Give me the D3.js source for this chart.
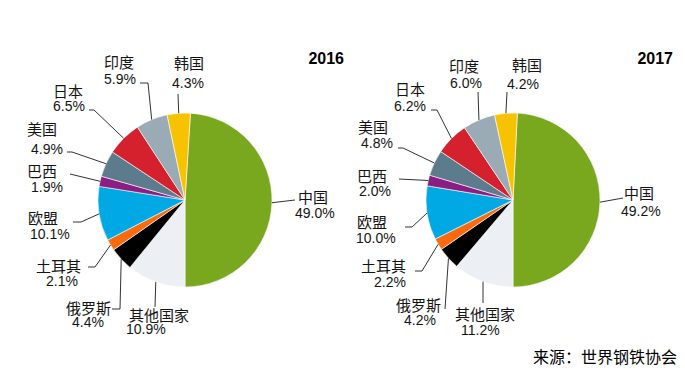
<!DOCTYPE html>
<html>
<head>
<meta charset="utf-8">
<script src="https://cdn.jsdelivr.net/npm/d3@7"></script>
<style>
  html, body { margin: 0; padding: 0; background: #fff; }
  svg { display: block; }
</style>
</head>
<body>
<svg id="chart" width="685" height="371"></svg>
<script>
// data
const countries = ['中国', '其他国家', '俄罗斯', '土耳其', '欧盟', '巴西', '美国', '日本', '印度', '韩国'];
const share2016 = [49.0, 10.9, 4.4, 2.1, 10.1, 1.9, 4.9, 6.5, 5.9, 4.3];
const share2017 = [49.2, 11.2, 4.2, 2.2, 10.0, 2.0, 4.8, 6.2, 6.0, 4.2];
const years = ['2016', '2017'];
const sourceText = '来源：世界钢铁协会';

const COLORS = ['#79a81f', '#eceff3', '#000000', '#fb6a0c', '#00a8e4', '#8c1d82', '#5c7b8d', '#d5202e', '#9aabb5', '#f7c200'];

const WIDTH = 685;
const HEIGHT = 371;
const RADIUS = 87;
const FONT_CN = "'Noto Sans CJK SC', 'Noto Sans', sans-serif";
const FONT_NUM = "'Liberation Sans', Arial, sans-serif";
const COLOR_TEXT = '#141414';
const COLOR_LEADER = '#333';

// label layout, relative to pie centre: name [x, y], pct [x, y], leader points (slice edge is added)
const layout2016 = [
    { name: [113, -4], pct: [110, 13], lead: [[110, 0]] },
    { name: [-56, 114], pct: [-59, 129], lead: [[-30, 107]] },
    { name: [-119, 107], pct: [-113, 122], lead: [[-73, 109], [-65, 109]] },
    { name: [-149, 65], pct: [-139, 80.5], lead: [[-97, 67], [-90, 67]] },
    { name: [-157, 17], pct: [-155, 33.5], lead: [[-112, 22], [-104, 22]] },
    { name: [-158, -30], pct: [-154, -13.5], lead: [[-115, -26]] },
    { name: [-158, -71.5], pct: [-154, -51.5], lead: [[-118, -48], [-113, -48]] },
    { name: [-132, -110], pct: [-132, -94], lead: [[-96, -90], [-91, -90]] },
    { name: [-81, -138.5], pct: [-81, -121.5], lead: [[-45, -117], [-37, -117]] },
    { name: [-11, -138], pct: [-13, -117.5], lead: [[-7, -106]] },
];
const layout2017 = [
    { name: [111, -7.5], pct: [108, 10.5], lead: [[110, -2]] },
    { name: [-58, 113], pct: [-52, 130], lead: [[-30, 103]] },
    { name: [-117, 104], pct: [-109, 120], lead: [[-68, 109]] },
    { name: [-152, 65.5], pct: [-139, 82], lead: [[-98, 71], [-91, 71]] },
    { name: [-156, 21], pct: [-157, 38], lead: [[-108, 27], [-101, 27]] },
    { name: [-156, -25], pct: [-154, -9], lead: [[-114, -21]] },
    { name: [-155, -73.5], pct: [-152, -57], lead: [[-115, -52], [-110, -52]] },
    { name: [-118, -111.5], pct: [-119, -94.5], lead: [[-82, -90], [-76, -90]] },
    { name: [-64, -135], pct: [-63, -117], lead: [[-35, -108]] },
    { name: [-1, -136], pct: [-6, -116], lead: [[-6, -108]] },
];

const svg = d3.select('#chart');

function drawPie(values, layout, cx, cy, year, yearX) {
    const g = svg.append('g').attr('transform', `translate(${cx},${cy})`);

    // 中国 ends at the bottom of the circle
    const start = Math.PI - values[0] / d3.sum(values) * 2 * Math.PI;
    const pie = d3.pie().sort(null).value(d => d.v)
        .startAngle(start).endAngle(start + 2 * Math.PI);
    const arcs = pie(values.map((v, i) => ({ v: v, name: countries[i], i: i })));

    const arc = d3.arc().innerRadius(0).outerRadius(RADIUS);
    const edge = d3.arc().innerRadius(RADIUS).outerRadius(RADIUS);

    g.selectAll('path.slice')
        .data(arcs)
        .join('path')
        .attr('class', 'slice')
        .attr('d', arc)
        .attr('fill', d => COLORS[d.data.i])
        .attr('stroke', '#fff')
        .attr('stroke-width', 0.6);

    const line = d3.line();
    arcs.forEach(d => {
        const lay = layout[d.data.i];
        const pts = lay.lead.concat([edge.centroid(d)]);
        g.append('path')
            .attr('d', line(pts))
            .attr('fill', 'none')
            .attr('stroke', COLOR_LEADER)
            .attr('stroke-width', 1);

        g.append('text')
            .text(d.data.name)
            .attr('x', lay.name[0])
            .attr('y', lay.name[1])
            .attr('dominant-baseline', 'central')
            .attr('font-family', FONT_CN)
            .attr('font-size', 15)
            .attr('fill', COLOR_TEXT);

        g.append('text')
            .text(d3.format('.1f')(d.data.v) + '%')
            .attr('x', lay.pct[0])
            .attr('y', lay.pct[1])
            .attr('dominant-baseline', 'central')
            .attr('font-family', FONT_NUM)
            .attr('font-size', 14)
            .attr('fill', COLOR_TEXT);
    });

    svg.append('text')
        .text(year)
        .attr('x', yearX)
        .attr('y', 58.5)
        .attr('dominant-baseline', 'central')
        .attr('text-anchor', 'end')
        .attr('font-family', FONT_NUM)
        .attr('font-weight', 'bold')
        .attr('font-size', 16)
        .attr('fill', '#000');
}

drawPie(share2016, layout2016, 185, 200, years[0], 344);
drawPie(share2017, layout2017, 513, 200, years[1], 673);

// 来源
svg.append('text')
    .text(sourceText)
    .attr('x', 677)
    .attr('y', 356)
    .attr('dominant-baseline', 'central')
    .attr('text-anchor', 'end')
    .attr('font-family', FONT_CN)
    .attr('font-size', 16)
    .attr('fill', '#000');
</script>
</body>
</html>
